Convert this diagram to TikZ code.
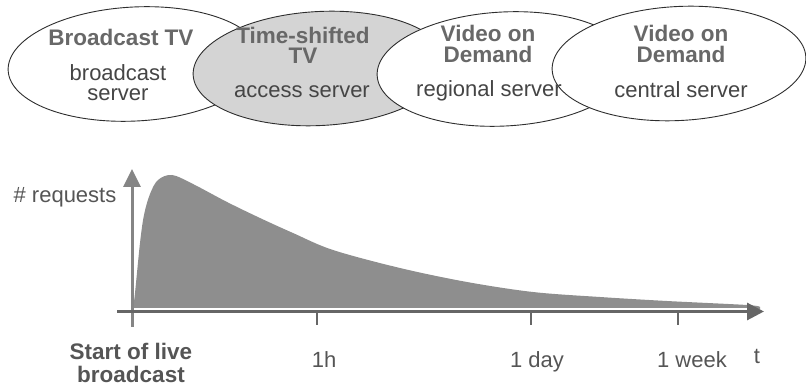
\documentclass[tikz,border=0pt]{standalone}
\usepackage{fontspec}
\setmainfont{Liberation Sans}
\usetikzlibrary{shapes.geometric,arrows.meta}

\definecolor{outline}{HTML}{2E2E2E}
\definecolor{titlegray}{HTML}{686868}
\definecolor{subgray}{HTML}{454545}
\definecolor{tsfill}{HTML}{D4D4D4}
\definecolor{areafill}{HTML}{8E8E8E}
\definecolor{yaxisgray}{HTML}{858585}
\definecolor{xaxisgray}{HTML}{666666}
\definecolor{labelgray}{HTML}{555555}

\tikzset{
  zone/.style={ellipse, draw=outline, line width=0.9pt, fill=white,
    minimum width=254pt, minimum height=114pt, inner sep=0pt, rotate=3},
  zonetitle/.style={font=\fontsize{22.5}{21}\selectfont\bfseries,
    text=titlegray, anchor=base, inner sep=0pt, align=center},
  zonesub/.style={font=\fontsize{22}{19.5}\selectfont,
    text=subgray, anchor=base, inner sep=0pt, align=center},
  axislabel/.style={font=\fontsize{22}{22}\selectfont,
    text=labelgray, anchor=base, inner sep=0pt},
  startlabel/.style={font=\fontsize{22.5}{23}\selectfont\bfseries,
    text=labelgray, anchor=base, inner sep=0pt, align=center},
  yaxis/.style={draw=yaxisgray, line width=3pt,
    -{Triangle[length=18pt,width=17pt]}},
  xaxis/.style={draw=xaxisgray, line width=3pt,
    -{Triangle[length=17pt,width=17pt]}},
  tickmark/.style={draw=xaxisgray, line width=2.5pt},
}

\begin{document}
\begin{tikzpicture}[x=1pt,y=-1pt]
\useasboundingbox (0,0) rectangle (806,387);

% --- service zones, each one overlapping the previous ---
\node[zone] (bcast) at (135,64) {};
\node[zone, fill=tsfill] (tshift) at (320,68.5) {};
\node[zone] (vodreg) at (504,69) {};
\node[zone] (vodcen) at (679,63.5) {};

% multi-line blocks are placed by the baseline of their last line
\node[zonetitle] (bcastT) at (121,46) {Broadcast TV};
\node[zonesub] (bcastS) at (118,100.5) {broadcast\\server};

\node[zonetitle, font=\fontsize{22.5}{20}\selectfont\bfseries]
  (tshiftT) at (303,63.5) {Time-shifted\\TV};
\node[zonesub] (tshiftS) at (302,98) {access server};

\node[zonetitle] (vodregT) at (488,63) {Video on\\Demand};
\node[zonesub] (vodregS) at (489,97) {regional server};

\node[zonetitle] (vodcenT) at (681,63) {Video on\\Demand};
\node[zonesub] (vodcenS) at (681,98) {central server};

% --- request volume over time ---
\fill[areafill] plot[smooth, tension=0.55] coordinates {
  (133,309) (135,293) (140,243) (144,215) (150,194) (158,180) (172,175)
  (193,184) (227,202) (260,218) (293,233) (333,250) (400,268) (467,282)
  (533,292) (600,297) (667,301) (747,305) (760,307)} -- (760,309) -- cycle;
\draw[white, line width=1pt] (134,308.5) -- (755,308.5);

\coordinate (ybot) at (132,327);
\coordinate (ytop) at (132,169);
\coordinate (xstart) at (117,311.5);
\coordinate (xend) at (764,311.5);
\draw[yaxis] (ybot) -- (ytop);
\draw[xaxis] (xstart) -- (xend);

\coordinate (hourtop) at (317,311.5);
\coordinate (hourbot) at (317,325);
\coordinate (daytop) at (531,311.5);
\coordinate (daybot) at (531,325);
\coordinate (weektop) at (678,311.5);
\coordinate (weekbot) at (678,325);
\draw[tickmark] (hourtop) -- (hourbot);
\draw[tickmark] (daytop) -- (daybot);
\draw[tickmark] (weektop) -- (weekbot);

\node[axislabel] (reqs) at (65,203) {\# requests};
\node[startlabel] (start) at (131,382) {Start of live\\broadcast};
\node[axislabel] (hour) at (324,367) {1h};
\node[axislabel] (day) at (537,367) {1 day};
\node[axislabel] (week) at (692,367) {1 week};
\node[axislabel] (tlabel) at (757,363) {t};
\end{tikzpicture}
\end{document}
